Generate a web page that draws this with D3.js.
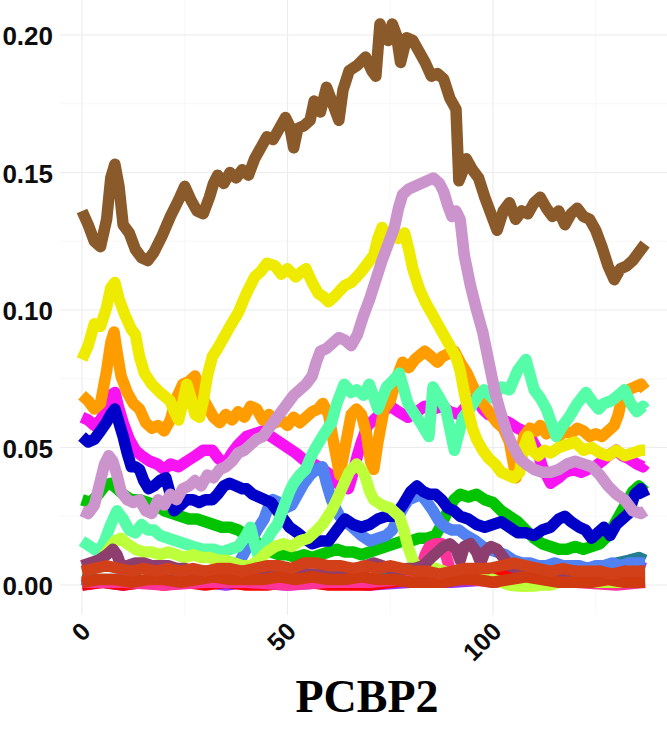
<!DOCTYPE html>
<html>
<head>
<meta charset="utf-8">
<script src="https://cdn.jsdelivr.net/npm/d3@7/dist/d3.min.js"></script>
<style>
  html, body { margin: 0; padding: 0; background: #fff; }
  svg { display: block; }
</style>
</head>
<body>
<svg id="chart" width="667" height="747"></svg>
<script>
// ---- axis ticks and title ----
const yTicks = [0, 0.05, 0.10, 0.15, 0.20];
const yMinorTicks = [0.025, 0.075, 0.125, 0.175];
const xTicks = [0, 50, 100];
const xMinorTicks = [25, 75, 125];
const titleText = "PCBP2";

// ---- series: [position, value] ----
const tan4 = [[0,.136],[1.5,.131],[3,.125],[4.5,.123],[6,.133],[7,.148],[8,.153],[9,.145],[10,.131],[11.5,.128],[13,.122],[14.5,.119],[16,.118],[17.5,.121],[19.5,.127],[21.5,.134],[23.5,.140],[25,.145],[26.5,.140],[28,.136],[29.5,.135],[31,.141],[32,.146],[33,.149],[34.5,.146],[36,.150],[37.5,.148],[39,.151],[40.5,.149],[42,.155],[43.5,.159],[45,.163],[46.5,.162],[48,.166],[49.5,.170],[50.5,.167],[51.5,.159],[52.5,.166],[54,.167],[55.5,.169],[56.5,.176],[58,.172],[59.5,.181],[61,.175],[62.5,.169],[63.5,.180],[65,.187],[67,.189],[69,.192],[70.5,.187],[71.5,.185],[72.5,.204],[73.5,.199],[74.5,.198],[75.5,.204],[76.5,.200],[77.5,.190],[79,.199],[80.5,.198],[82,.194],[83.5,.190],[85,.185],[86.5,.186],[88,.184],[89.5,.177],[91,.173],[91.7,.147],[92.5,.150],[93.5,.155],[95,.151],[96.5,.148],[98,.141],[99.5,.135],[101,.129],[102.5,.136],[104,.139],[105.5,.133],[107,.136],[108.5,.135],[110,.139],[111.5,.141],[113,.137],[114.5,.134],[116,.136],[117.5,.131],[119,.135],[120.5,.137],[122,.134],[123.5,.133],[125,.129],[126.5,.123],[128,.116],[129.5,.111],[131,.115],[132.5,.116],[134,.118],[135.5,.121],[137,.124]];

const yellow = [[0,.082],[1.5,.087],[3,.095],[4.5,.094],[6,.101],[7,.108],[8,.110],[9,.104],[10.5,.098],[12,.093],[13,.091],[14,.083],[15.2,.077],[17,.073],[19,.070],[21.4,.067],[22.5,.063],[23.5,.060],[24.5,.066],[25.5,.073],[26.5,.068],[27.5,.062],[28.6,.061],[29.5,.067],[30.5,.076],[31.7,.083],[33,.086],[34.5,.090],[36,.094],[38,.099],[40,.106],[42,.112],[43.5,.114],[45,.117],[47,.116],[48.5,.113],[50,.115],[52,.112],[53.5,.114],[54.5,.115],[56,.110],[57.5,.106],[58.6,.105],[60,.103],[61.5,.105],[62.7,.107],[64,.109],[65.5,.110],[66.8,.112],[68,.114],[69.5,.117],[71,.120],[72,.126],[73,.130],[74,.127],[75.5,.129],[77,.126],[78.5,.128],[79.5,.122],[80.5,.115],[82,.108],[83.5,.103],[85,.099],[86.5,.095],[88,.091],[89.5,.087],[91,.083],[92,.078],[93,.070],[94,.063],[95,.057],[96,.053],[97.5,.049],[99,.046],[100.5,.044],[102,.041],[103.5,.040],[105,.039],[106.5,.041],[107.5,.050],[108.5,.054],[109.5,.049],[111,.047],[112.5,.049],[114,.048],[116,.050],[118,.051],[120,.052],[122,.049],[124,.050],[126,.048],[128,.047],[130,.049],[132,.047],[134,.048],[136,.049],[137,.049]];

const plum = [[0,.027],[1.5,.026],[3,.029],[4.5,.038],[5.5,.044],[6.5,.047],[7.5,.045],[8.5,.040],[9.5,.034],[11,.031],[12.5,.030],[14,.031],[15.5,.027],[17,.026],[18.5,.031],[20,.029],[21.5,.033],[23,.031],[24.5,.035],[26,.036],[27.5,.038],[29,.036],[30.5,.040],[32,.039],[33.5,.042],[35,.043],[36.5,.045],[38,.048],[39.5,.049],[41,.051],[42.5,.053],[44,.054],[45.5,.057],[47,.060],[48.5,.063],[50,.066],[51.5,.069],[53,.071],[54.5,.073],[56,.076],[57,.081],[58,.085],[59.5,.086],[61,.088],[62.5,.090],[64,.089],[65.5,.087],[67,.091],[68.5,.098],[70,.104],[71.5,.111],[73,.118],[74.5,.124],[76,.130],[77,.137],[78,.142],[79.5,.144],[81,.145],[82.5,.146],[84,.147],[85.5,.148],[87,.146],[88,.143],[89,.138],[90,.134],[91,.136],[92,.133],[93,.120],[94.5,.109],[96,.100],[97.5,.092],[99,.081],[100.5,.070],[102,.062],[103.5,.055],[105,.050],[106.5,.046],[108,.044],[110,.042],[112,.041],[114,.041],[116,.042],[118,.044],[120,.045],[122,.044],[124,.043],[126,.040],[128,.036],[130,.033],[132,.031],[134,.027],[136,.026],[137,.027]];

const orange = [[0,.069],[1.5,.067],[3,.064],[4.5,.066],[6,.078],[7,.088],[7.8,.092],[8.5,.085],[9.5,.076],[11,.070],[12.5,.066],[14,.064],[15.5,.059],[17,.057],[18.5,.058],[20,.056],[21.5,.060],[23,.068],[24.5,.073],[26,.074],[27.5,.076],[29,.069],[30.5,.065],[32,.061],[33.5,.059],[35,.062],[36.5,.060],[38,.063],[39.5,.061],[41,.065],[42.5,.064],[44,.060],[45.5,.062],[47,.059],[48.5,.060],[50,.058],[51.5,.061],[53,.059],[54.5,.061],[56,.063],[57.5,.064],[58.6,.066],[60,.062],[61.2,.052],[62.7,.040],[64,.050],[65.5,.062],[66.8,.064],[68,.062],[69.2,.055],[70.2,.045],[71,.042],[72,.052],[73.5,.064],[75,.067],[76.5,.075],[78,.081],[79.5,.079],[81,.082],[83.4,.085],[85,.083],[86.5,.081],[87.6,.083],[89,.084],[90.6,.085],[92,.081],[93.7,.077],[95.2,.072],[96.8,.068],[98.5,.064],[100,.061],[101,.059],[102.5,.057],[104,.052],[105,.044],[105.6,.039],[106.5,.046],[107.5,.054],[109,.057],[110.5,.056],[111.5,.058],[113,.055],[114.5,.056],[116,.054],[117.5,.056],[119,.055],[120.5,.057],[122,.056],[123.5,.054],[125,.055],[126.5,.054],[128,.056],[129.5,.058],[130.5,.062],[131.5,.069],[133,.071],[134.5,.072],[136,.073],[137,.071]];

const magenta = [[0,.061],[1.5,.060],[3,.058],[4.5,.060],[6,.064],[7,.069],[8,.070],[9,.064],[10,.059],[11.5,.053],[13,.049],[14.5,.047],[16.5,.045],[18.3,.044],[20,.042],[21.5,.044],[23.5,.043],[25.5,.045],[27.6,.047],[29.5,.049],[31.7,.049],[33.2,.046],[34.9,.044],[36.5,.048],[38,.051],[40,.054],[42,.055],[44,.056],[46,.054],[48,.052],[50,.050],[52,.048],[54.4,.045],[56.5,.044],[58.6,.042],[60.5,.040],[62,.037],[63.3,.036],[64.8,.035],[66,.041],[67,.047],[68,.052],[69.5,.058],[71,.060],[73,.063],[75,.065],[77,.063],[79.3,.061],[81.5,.063],[83.4,.065],[85.5,.064],[87.6,.065],[89.5,.063],[91.7,.062],[93.5,.065],[95.8,.068],[97.5,.064],[98.9,.062],[100.5,.061],[102.5,.060],[104,.059],[106,.057],[107.5,.056],[109,.054],[110.5,.050],[112,.043],[114,.037],[116,.039],[117.5,.041],[119.5,.042],[121.5,.041],[123,.042],[124.7,.043],[126.5,.045],[128,.047],[130,.049],[131.5,.047],[133,.046],[135,.044],[136.5,.043],[137,.044]];

const navy = [[0,.054],[1.5,.052],[3,.053],[4.5,.056],[5.9,.059],[7,.062],[8,.064],[9,.059],[10,.054],[11,.048],[12,.043],[13,.043],[14,.042],[15,.038],[16.2,.035],[17.5,.036],[19,.038],[20.4,.039],[21.5,.033],[22.4,.027],[24,.029],[25.5,.031],[27,.031],[28.5,.030],[30,.031],[31.7,.031],[33,.033],[34.5,.036],[35.9,.037],[37.5,.036],[39,.035],[40,.035],[41.5,.033],[43,.032],[44.5,.031],[46,.030],[47.5,.027],[49,.024],[50.5,.021],[52.4,.019],[54,.017],[56,.015],[58,.016],[60,.016],[62,.020],[64,.024],[66,.022],[68,.021],[70,.022],[72,.024],[74,.025],[76,.025],[78,.029],[80,.034],[81.5,.036],[83,.034],[84.5,.033],[86,.033],[87.5,.031],[89,.028],[90.5,.027],[92,.025],[94,.024],[96,.022],[98,.021],[100,.022],[102,.023],[104,.021],[106,.019],[108,.019],[110,.018],[112,.020],[114,.021],[116,.024],[117.5,.025],[119,.023],[121,.021],[122.5,.020],[124,.017],[125.5,.019],[127,.021],[128.5,.018],[130,.022],[131.5,.024],[133,.026],[134.5,.033],[136,.035],[137,.032]];

const green = [[0,.031],[2,.030],[4,.033],[5.5,.036],[7,.037],[8.5,.035],[10,.033],[12,.031],[14,.031],[16,.030],[18,.029],[20,.027],[22,.026],[24,.025],[26,.024],[28,.024],[30,.023],[32,.022],[34,.021],[36,.021],[38,.020],[40,.018],[42,.016],[44,.014],[46,.012],[48,.011],[50,.011],[52,.010],[54,.011],[56,.010],[58,.011],[60,.012],[62,.013],[64,.012],[66,.012],[68,.011],[70,.012],[72,.013],[74,.014],[76,.015],[78,.016],[80,.016],[82,.017],[84,.017],[86,.018],[87.5,.022],[89,.027],[90.5,.031],[92,.033],[94,.032],[96,.033],[98,.031],[100,.030],[102,.027],[104,.025],[106,.023],[108,.020],[110,.017],[112,.015],[114,.014],[116,.013],[118,.013],[120,.014],[122,.013],[124,.014],[126,.015],[128,.018],[129.5,.022],[131,.026],[132.5,.030],[134,.034],[135.5,.036],[137,.034]];

const aquamarine = [[0,.016],[2,.014],[4,.012],[5.5,.016],[7,.022],[8.5,.027],[10,.024],[11.5,.020],[13,.019],[14.5,.022],[16,.020],[17.5,.020],[19,.018],[21,.017],[23,.016],[25,.015],[27,.014],[29.5,.013],[32,.013],[34,.012],[36,.013],[38,.014],[39.5,.017],[41,.021],[42,.015],[43,.010],[44.5,.015],[46,.019],[47.5,.022],[49,.028],[50.5,.034],[51.5,.037],[53,.040],[54.4,.042],[55.5,.046],[56.5,.049],[58.5,.054],[60.7,.059],[62,.066],[63.8,.073],[65.5,.070],[66.8,.071],[68.5,.069],[69.9,.073],[72,.064],[74.1,.072],[75.5,.074],[77.2,.077],[79.3,.066],[81,.062],[82.4,.059],[84.4,.054],[85.4,.072],[87,.068],[88.5,.064],[90.6,.049],[92.7,.061],[94.8,.065],[96.5,.069],[97.8,.071],[99.9,.068],[102,.072],[104,.071],[106,.078],[108,.082],[110,.071],[111.5,.068],[113,.064],[115.4,.054],[117,.058],[118.5,.061],[120.5,.066],[122.6,.070],[124,.067],[125.7,.064],[127,.066],[128.8,.067],[130.5,.069],[132,.071],[133.5,.066],[135,.063],[136.5,.065],[137,.064]];

const royalblue = [[0,.002],[3,.001],[6,.001],[9,.002],[12,.001],[15,.001],[18,.001],[21,.002],[24,.002],[27,.001],[30,.001],[33,.002],[35,.003],[37,.005],[38.5,.009],[40,.013],[41.5,.017],[43,.021],[44.3,.024],[45.5,.029],[46.5,.031],[48,.030],[49.5,.028],[51,.029],[52.5,.033],[54,.037],[55.5,.040],[57,.042],[58.5,.043],[59.5,.037],[60.7,.031],[62,.027],[62.7,.025],[64,.023],[65.8,.021],[68,.018],[70,.016],[72,.017],[74,.018],[75.5,.020],[77,.025],[78.5,.029],[79.5,.031],[81,.032],[82.4,.033],[84,.030],[85.4,.027],[87,.023],[88.5,.021],[90,.020],[91.7,.020],[93.5,.018],[95.8,.016],[97.5,.014],[99,.013],[101,.012],[103,.011],[105,.009],[107,.008],[109,.008],[111,.007],[113,.007],[115,.008],[117,.007],[119,.007],[121,.007],[123,.006],[125,.007],[127,.007],[129,.008],[131,.007],[133,.008],[135,.008],[137,.008]];

const chartreuse = [[0,.006],[2,.006],[4,.008],[6,.012],[8,.016],[9.5,.017],[11,.015],[13,.013],[15,.012],[17,.012],[19,.011],[21,.012],[23,.011],[25,.010],[27,.011],[29,.010],[31,.010],[33,.009],[35,.009],[37,.008],[39,.007],[41,.007],[43,.009],[45,.012],[47,.014],[49,.015],[51,.014],[53,.016],[55,.017],[56.5,.019],[58.5,.022],[60.7,.027],[62,.031],[63.8,.037],[65,.041],[66.8,.044],[68,.042],[69,.039],[70,.034],[71,.031],[73,.029],[75,.028],[77.2,.025],[78.3,.020],[79.3,.014],[80.5,.009],[82.3,.004],[84.4,.007],[86,.006],[88,.005],[90,.004],[92,.003],[94,.003],[96,.004],[98,.003],[100,.002],[102,.001],[104,.000],[106,-.0004],[108,-.0005],[110,-.0004],[112,.000],[114,.000],[116,.001],[118,.001],[120,.001],[124,.001],[128,.001],[132,.001],[137,.001]];

const mauve = [[0,.007],[2,.008],[4,.009],[6,.011],[7.5,.013],[8.5,.011],[9.5,.007],[11,.007],[13,.008],[15,.008],[17,.007],[19,.007],[21,.007],[23,.006],[25,.006],[27,.005],[29,.005],[31,.005],[33,.004],[35,.004],[37,.004],[39,.005],[41,.004],[43,.004],[45,.003],[47,.004],[49,.005],[51,.005],[53,.005],[55,.004],[57,.004],[59,.004],[61,.005],[63,.005],[65,.006],[67,.006],[69,.007],[71,.008],[73,.007],[75,.006],[77,.005],[79,.006],[81,.006],[83,.007],[85,.010],[86.5,.012],[88,.014],[89.5,.015],[91,.013],[92,.009],[93,.014],[94.5,.015],[96,.012],[97,.008],[98,.012],[99.5,.014],[101,.013],[102.5,.010],[104,.007],[106,.006],[108,.005],[110,.006],[112,.005],[114,.004],[116,.004],[118,.004],[120,.005],[122,.004],[124,.004],[126,.005],[128,.004],[130,.004],[132,.005],[134,.004],[136,.005],[137,.005]];

const deeppink = [[0,.001],[10,.001],[20,.000],[30,.001],[40,.001],[50,.000],[60,.001],[70,.001],[78,.002],[81,.003],[82.5,.006],[83.5,.011],[84.5,.014],[86,.015],[87.5,.015],[88.5,.011],[89.5,.006],[91,.003],[95,.002],[100,.001],[110,.001],[120,.001],[130,.000],[137,.001]];

const red = [[0,.000],[5,.001],[10,.000],[15,.001],[20,.000],[25,.001],[30,.000],[35,.001],[40,.000],[45,.000],[50,.001],[55,.001],[60,.000],[65,.000],[70,.000],[75,.001],[80,.002],[85,.002],[90,.003],[94,.004],[97,.005],[99,.006],[101,.004],[103,.004],[105,.005],[107,.007],[109,.006],[111,.003],[114,.002],[118,.002],[122,.001],[126,.001],[130,.001],[134,.001],[137,.001]];

const purple = [[0,.000],[5,.001],[10,.000],[15,.001],[18,.002],[21,.003],[24,.002],[27,.001],[30,.001],[35,.000],[40,.001],[50,.000],[60,.001],[70,.000],[80,.001],[90,.001],[100,.002],[110,.002],[118,.002],[123,.003],[126,.004],[129,.006],[132,.006],[135,.007],[137,.006]];

const teal = [[0,.002],[10,.002],[20,.001],[30,.002],[40,.002],[50,.001],[60,.002],[70,.002],[80,.003],[90,.003],[100,.003],[110,.004],[118,.005],[123,.006],[127,.007],[130,.008],[133,.009],[135.5,.010],[137,.009]];

const rustLow = [[0,.001],[4,.002],[8,.002],[12,.001],[16,.002],[20,.002],[24,.001],[28,.002],[32,.003],[36,.002],[40,.002],[44,.002],[48,.003],[52,.002],[56,.003],[60,.002],[64,.002],[68,.003],[72,.002],[76,.002],[80,.001],[84,.001],[88,.001],[92,.002],[96,.002],[100,.001],[104,.002],[108,.003],[112,.002],[116,.001],[120,.001],[124,.001],[128,.002],[132,.001],[137,.001]];

const rustHigh = [[0,.005],[3,.006],[6,.007],[9,.006],[12,.005],[15,.006],[18,.005],[21,.006],[24,.005],[27,.006],[30,.005],[33,.006],[36,.006],[39,.005],[42,.006],[45,.007],[48,.007],[51,.006],[54,.008],[57,.008],[60,.007],[63,.007],[66,.006],[69,.007],[72,.006],[75,.007],[78,.006],[81,.005],[84,.005],[87,.004],[90,.005],[93,.006],[96,.006],[99,.006],[102,.007],[105,.008],[108,.007],[111,.006],[114,.005],[117,.006],[120,.005],[123,.005],[126,.005],[129,.004],[132,.005],[135,.005],[137,.005]];

// drawing order, first = bottom
const drawOrder = [
  ["purple", purple], ["teal", teal], ["red", red], ["green", green],
  ["magenta", magenta], ["royalblue", royalblue], ["deeppink", deeppink],
  ["navy", navy], ["orange", orange], ["aquamarine", aquamarine],
  ["chartreuse", chartreuse], ["yellow", yellow], ["plum", plum],
  ["tan4", tan4], ["mauve", mauve], ["rustLow", rustLow], ["rustHigh", rustHigh]
];

const colours = {
  tan4: "#8B5A2B", yellow: "#EEEA00", plum: "#CC94CC", orange: "#FF9C00",
  magenta: "#F814F2", navy: "#0000C8", green: "#00C400", aquamarine: "#55FDA8",
  royalblue: "#5282F2", chartreuse: "#BEFF3C", mauve: "#8E3E6E", deeppink: "#FF3399",
  red: "#FF0000", purple: "#9B30FF", teal: "#217D8F", rustLow: "#CF3A10", rustHigh: "#D2401A"
};

// ---- layout ----
const svg = d3.select("#chart");
const panel = { left: 60, right: 667, top: 0, bottom: 615 };

const x = d3.scaleLinear().domain([0, 100]).range([82, 493]);
const y = d3.scaleLinear().domain([0, 0.2]).range([585, 35]);

svg.append("rect").attr("width", 667).attr("height", 747).attr("fill", "#fff");

// grid
const grid = svg.append("g");
grid.selectAll(".ymin").data(yMinorTicks).join("line")
  .attr("x1", panel.left).attr("x2", panel.right)
  .attr("y1", d => y(d)).attr("y2", d => y(d))
  .attr("stroke", "#f3f3f3").attr("stroke-width", 0.6);
grid.selectAll(".xmin").data(xMinorTicks).join("line")
  .attr("y1", panel.top).attr("y2", panel.bottom)
  .attr("x1", d => x(d)).attr("x2", d => x(d))
  .attr("stroke", "#f3f3f3").attr("stroke-width", 0.6);
grid.selectAll(".ymaj").data(yTicks).join("line")
  .attr("x1", panel.left).attr("x2", panel.right)
  .attr("y1", d => y(d)).attr("y2", d => y(d))
  .attr("stroke", "#ececec").attr("stroke-width", 1.1);
grid.selectAll(".xmaj").data(xTicks).join("line")
  .attr("y1", panel.top).attr("y2", panel.bottom)
  .attr("x1", d => x(d)).attr("x2", d => x(d))
  .attr("stroke", "#ececec").attr("stroke-width", 1.1);

// lines
const line = d3.line().x(d => x(d[0])).y(d => y(d[1]));
svg.append("g").selectAll("path").data(drawOrder).join("path")
  .attr("d", d => line(d[1]))
  .attr("fill", "none")
  .attr("stroke", d => colours[d[0]])
  .attr("stroke-width", 11.5)
  .attr("stroke-linejoin", "round")
  .attr("stroke-linecap", "butt");

// y axis labels
const fmt = d3.format(".2f");
svg.append("g").selectAll("text").data(yTicks).join("text")
  .attr("x", 53).attr("y", d => y(d) + 1)
  .attr("text-anchor", "end").attr("dominant-baseline", "central")
  .style("font-family", "'Liberation Sans', Arial, sans-serif")
  .style("font-weight", "bold").style("font-size", "26px").attr("fill", "#0d0d0d")
  .text(d => fmt(d));

// x axis labels, rotated
svg.append("g").selectAll("text").data(xTicks).join("text")
  .attr("transform", d => `translate(${x(d) + 10},633) rotate(-45)`)
  .attr("text-anchor", "end")
  .style("font-family", "'Liberation Sans', Arial, sans-serif")
  .style("font-weight", "bold").style("font-size", "25px").attr("fill", "#0d0d0d")
  .text(d => d);

// title
svg.append("text")
  .attr("x", (panel.left + 674) / 2).attr("y", 712)
  .attr("text-anchor", "middle")
  .style("font-family", "'Liberation Serif', 'DejaVu Serif', serif")
  .style("font-weight", "bold").style("font-size", "46px").attr("fill", "#000")
  .text(titleText);
</script>
</body>
</html>
